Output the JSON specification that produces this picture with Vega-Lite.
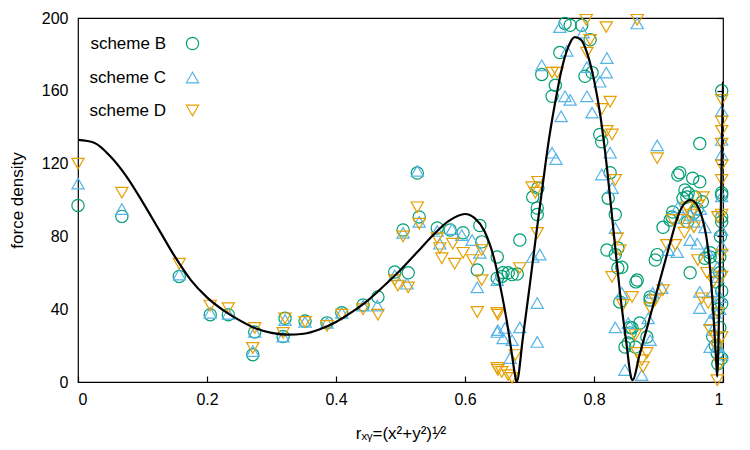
{
  "$schema": "https://vega.github.io/schema/vega-lite/v6.json",
  "width": 645,
  "height": 364,
  "autosize": {"type": "none"},
  "padding": {"left": 78, "top": 18, "right": 27, "bottom": 68},
  "background": "white",
  "config": {
    "view": {"stroke": "#000", "strokeWidth": 1.2},
    "font": "Liberation Sans",
    "axis": {
      "domain": false,
      "ticks": false,
      "grid": true,
      "gridColor": "#000",
      "gridOpacity": 1,
      "gridWidth": 1.2,
      "gridDash": [6, 2000],
      "labelFont": "Liberation Sans",
      "labelFontSize": 16,
      "labelColor": "#000",
      "titleFont": "Liberation Sans",
      "titleFontSize": 17,
      "titleFontWeight": "normal",
      "titleColor": "#000"
    }
  },
  "datasets": {
    "pts": [
      {"s":"scheme B","r":0,"f":97},{"s":"scheme B","r":0.068,"f":91},{"s":"scheme B","r":0.157,"f":58},{"s":"scheme B","r":0.205,"f":37},{"s":"scheme B","r":0.233,"f":37},{"s":"scheme B","r":0.274,"f":27.5},{"s":"scheme B","r":0.271,"f":15},{"s":"scheme B","r":0.321,"f":35},{"s":"scheme B","r":0.318,"f":25},{"s":"scheme B","r":0.352,"f":33.5},{"s":"scheme B","r":0.386,"f":32.5},{"s":"scheme B","r":0.409,"f":38},{"s":"scheme B","r":0.442,"f":42.3},{"s":"scheme B","r":0.465,"f":46.7},{"s":"scheme B","r":0.491,"f":60.4},{"s":"scheme B","r":0.512,"f":60},{"s":"scheme B","r":0.504,"f":83.5},{"s":"scheme B","r":0.529,"f":90.7},{"s":"scheme B","r":0.526,"f":114.8},{"s":"scheme B","r":0.557,"f":84.6},{"s":"scheme B","r":0.577,"f":83.5},{"s":"scheme B","r":0.597,"f":82},{"s":"scheme B","r":0.623,"f":86},{"s":"scheme B","r":0.626,"f":77},{"s":"scheme B","r":0.65,"f":68.7},{"s":"scheme B","r":0.619,"f":61.5},{"s":"scheme B","r":0.65,"f":57},{"s":"scheme B","r":0.705,"f":101.6},{"s":"scheme B","r":0.712,"f":95.6},{"s":"scheme B","r":0.712,"f":92},{"s":"scheme B","r":0.685,"f":78},{"s":"scheme B","r":0.659,"f":60},{"s":"scheme B","r":0.667,"f":60},{"s":"scheme B","r":0.673,"f":59},{"s":"scheme B","r":0.681,"f":59.3},{"s":"scheme B","r":0.657,"f":58},{"s":"scheme B","r":0.822,"f":101},{"s":"scheme B","r":0.82,"f":72.5},{"s":"scheme B","r":0.833,"f":70},{"s":"scheme B","r":0.837,"f":62.6},{"s":"scheme B","r":0.84,"f":44},{"s":"scheme B","r":0.755,"f":197},{"s":"scheme B","r":0.763,"f":196},{"s":"scheme B","r":0.781,"f":196},{"s":"scheme B","r":0.794,"f":188},{"s":"scheme B","r":0.747,"f":181},{"s":"scheme B","r":0.719,"f":169},{"s":"scheme B","r":0.74,"f":163},{"s":"scheme B","r":0.735,"f":157},{"s":"scheme B","r":0.786,"f":168},{"s":"scheme B","r":0.797,"f":170},{"s":"scheme B","r":0.809,"f":136},{"s":"scheme B","r":0.812,"f":132},{"s":"scheme B","r":0.825,"f":115},{"s":"scheme B","r":0.713,"f":106.6},{"s":"scheme B","r":0.833,"f":92},{"s":"scheme B","r":0.933,"f":115},{"s":"scheme B","r":0.964,"f":131},{"s":"scheme B","r":0.998,"f":160},{"s":"scheme B","r":0.998,"f":104},{"s":"scheme B","r":0.843,"f":63},{"s":"scheme B","r":0.867,"f":56},{"s":"scheme B","r":0.887,"f":46.7},{"s":"scheme B","r":0.856,"f":30},{"s":"scheme B","r":0.859,"f":29.7},{"s":"scheme B","r":0.853,"f":21.4},{"s":"scheme B","r":0.864,"f":19.2},{"s":"scheme B","r":0.882,"f":24.7},{"s":"scheme B","r":0.871,"f":32.4},{"s":"scheme B","r":0.887,"f":45},{"s":"scheme B","r":0.898,"f":70},{"s":"scheme B","r":0.895,"f":67},{"s":"scheme B","r":0.907,"f":85},{"s":"scheme B","r":0.921,"f":90.7},{"s":"scheme B","r":0.922,"f":93.4},{"s":"scheme B","r":0.938,"f":101},{"s":"scheme B","r":0.946,"f":103.8},{"s":"scheme B","r":0.957,"f":101.6},{"s":"scheme B","r":0.949,"f":60},{"s":"scheme B","r":0.972,"f":68},{"s":"scheme B","r":0.98,"f":68.7},{"s":"scheme B","r":0.98,"f":71},{"s":"scheme B","r":0.995,"f":68.7},{"s":"scheme B","r":0.998,"f":90.7},{"s":"scheme B","r":0.998,"f":102.7},{"s":"scheme B","r":0.991,"f":16},{"s":"scheme B","r":0.998,"f":43},{"s":"scheme B","r":0.93,"f":113.7},{"s":"scheme B","r":0.953,"f":112},{"s":"scheme B","r":0.941,"f":105.5},{"s":"scheme B","r":0.964,"f":110},{"s":"scheme B","r":0.944,"f":101.6},{"s":"scheme B","r":0.918,"f":89},{"s":"scheme B","r":0.865,"f":55},{"s":"scheme B","r":0.856,"f":27},{"s":"scheme B","r":0.848,"f":19.2},{"s":"scheme B","r":0.837,"f":73.6},{"s":"scheme B","r":0.998,"f":88},{"s":"scheme B","r":0.996,"f":80},{"s":"scheme B","r":0.995,"f":60},{"s":"scheme B","r":0.998,"f":50},{"s":"scheme B","r":0.992,"f":40},{"s":"scheme B","r":0.995,"f":30},{"s":"scheme B","r":0.988,"f":20},{"s":"scheme B","r":0.998,"f":13},{"s":"scheme B","r":0.992,"f":10},{"s":"scheme B","r":0.984,"f":25},{"s":"scheme B","r":0.96,"f":95},{"s":"scheme B","r":0.955,"f":93},{"s":"scheme B","r":0.968,"f":99},{"s":"scheme B","r":0.945,"f":88},{"s":"scheme B","r":0.99,"f":55},
      {"s":"scheme C","r":0,"f":109},{"s":"scheme C","r":0.068,"f":95},{"s":"scheme C","r":0.157,"f":59},{"s":"scheme C","r":0.205,"f":38},{"s":"scheme C","r":0.233,"f":37.5},{"s":"scheme C","r":0.274,"f":27.5},{"s":"scheme C","r":0.271,"f":17},{"s":"scheme C","r":0.321,"f":34},{"s":"scheme C","r":0.318,"f":25},{"s":"scheme C","r":0.352,"f":33},{"s":"scheme C","r":0.386,"f":32.5},{"s":"scheme C","r":0.409,"f":38},{"s":"scheme C","r":0.442,"f":42},{"s":"scheme C","r":0.464,"f":42},{"s":"scheme C","r":0.491,"f":58.6},{"s":"scheme C","r":0.51,"f":54},{"s":"scheme C","r":0.504,"f":82},{"s":"scheme C","r":0.529,"f":88},{"s":"scheme C","r":0.526,"f":116},{"s":"scheme C","r":0.561,"f":76},{"s":"scheme C","r":0.557,"f":83},{"s":"scheme C","r":0.58,"f":84},{"s":"scheme C","r":0.595,"f":80.7},{"s":"scheme C","r":0.611,"f":78},{"s":"scheme C","r":0.623,"f":71},{"s":"scheme C","r":0.619,"f":52},{"s":"scheme C","r":0.65,"f":56},{"s":"scheme C","r":0.651,"f":28.5},{"s":"scheme C","r":0.716,"f":70},{"s":"scheme C","r":0.705,"f":68.7},{"s":"scheme C","r":0.712,"f":43.4},{"s":"scheme C","r":0.685,"f":30},{"s":"scheme C","r":0.662,"f":29.7},{"s":"scheme C","r":0.65,"f":27.5},{"s":"scheme C","r":0.659,"f":24},{"s":"scheme C","r":0.673,"f":23},{"s":"scheme C","r":0.712,"f":22},{"s":"scheme C","r":0.67,"f":13.2},{"s":"scheme C","r":0.833,"f":30},{"s":"scheme C","r":0.833,"f":84.6},{"s":"scheme C","r":0.747,"f":195},{"s":"scheme C","r":0.783,"f":192},{"s":"scheme C","r":0.758,"f":182},{"s":"scheme C","r":0.719,"f":174},{"s":"scheme C","r":0.82,"f":178},{"s":"scheme C","r":0.819,"f":170},{"s":"scheme C","r":0.809,"f":165},{"s":"scheme C","r":0.789,"f":173},{"s":"scheme C","r":0.755,"f":157},{"s":"scheme C","r":0.763,"f":155},{"s":"scheme C","r":0.789,"f":157},{"s":"scheme C","r":0.797,"f":148},{"s":"scheme C","r":0.749,"f":146},{"s":"scheme C","r":0.735,"f":126},{"s":"scheme C","r":0.741,"f":122.5},{"s":"scheme C","r":0.825,"f":126},{"s":"scheme C","r":0.812,"f":114},{"s":"scheme C","r":0.828,"f":106.6},{"s":"scheme C","r":0.867,"f":197},{"s":"scheme C","r":0.898,"f":130},{"s":"scheme C","r":0.998,"f":149},{"s":"scheme C","r":0.998,"f":133},{"s":"scheme C","r":0.998,"f":125},{"s":"scheme C","r":0.998,"f":102},{"s":"scheme C","r":0.843,"f":49},{"s":"scheme C","r":0.853,"f":32.4},{"s":"scheme C","r":0.884,"f":35},{"s":"scheme C","r":0.891,"f":49},{"s":"scheme C","r":0.905,"f":51.6},{"s":"scheme C","r":0.887,"f":23},{"s":"scheme C","r":0.848,"f":6.6},{"s":"scheme C","r":0.874,"f":3.8},{"s":"scheme C","r":0.929,"f":71.4},{"s":"scheme C","r":0.915,"f":72.5},{"s":"scheme C","r":0.949,"f":78},{"s":"scheme C","r":0.96,"f":76},{"s":"scheme C","r":0.972,"f":85},{"s":"scheme C","r":0.961,"f":91.8},{"s":"scheme C","r":0.949,"f":91.8},{"s":"scheme C","r":0.975,"f":72.5},{"s":"scheme C","r":0.964,"f":49.5},{"s":"scheme C","r":0.964,"f":40.6},{"s":"scheme C","r":0.98,"f":34},{"s":"scheme C","r":0.984,"f":28.6},{"s":"scheme C","r":0.98,"f":19.2},{"s":"scheme C","r":0.995,"f":46.7},{"s":"scheme C","r":0.992,"f":57.7},{"s":"scheme C","r":0.991,"f":63},{"s":"scheme C","r":0.998,"f":83.5},{"s":"scheme C","r":0.998,"f":75},{"s":"scheme C","r":0.995,"f":40},{"s":"scheme C","r":0.998,"f":15},{"s":"scheme C","r":0.992,"f":20},{"s":"scheme C","r":0.94,"f":90},{"s":"scheme C","r":0.955,"f":88},{"s":"scheme C","r":0.965,"f":95},{"s":"scheme C","r":0.93,"f":96},{"s":"scheme C","r":0.985,"f":50},{"s":"scheme C","r":0.988,"f":38},
      {"s":"scheme D","r":0,"f":120},{"s":"scheme D","r":0.068,"f":104},{"s":"scheme D","r":0.157,"f":65},{"s":"scheme D","r":0.205,"f":42},{"s":"scheme D","r":0.233,"f":40.6},{"s":"scheme D","r":0.274,"f":29.7},{"s":"scheme D","r":0.271,"f":18.7},{"s":"scheme D","r":0.321,"f":35},{"s":"scheme D","r":0.318,"f":27},{"s":"scheme D","r":0.352,"f":33},{"s":"scheme D","r":0.386,"f":30.8},{"s":"scheme D","r":0.409,"f":37},{"s":"scheme D","r":0.442,"f":40},{"s":"scheme D","r":0.465,"f":37},{"s":"scheme D","r":0.491,"f":56},{"s":"scheme D","r":0.512,"f":52},{"s":"scheme D","r":0.504,"f":80},{"s":"scheme D","r":0.526,"f":96},{"s":"scheme D","r":0.529,"f":87},{"s":"scheme D","r":0.496,"f":53},{"s":"scheme D","r":0.557,"f":79},{"s":"scheme D","r":0.561,"f":73.6},{"s":"scheme D","r":0.564,"f":68},{"s":"scheme D","r":0.581,"f":76},{"s":"scheme D","r":0.584,"f":65},{"s":"scheme D","r":0.597,"f":71},{"s":"scheme D","r":0.612,"f":67},{"s":"scheme D","r":0.626,"f":72.5},{"s":"scheme D","r":0.626,"f":56},{"s":"scheme D","r":0.619,"f":38.5},{"s":"scheme D","r":0.651,"f":37},{"s":"scheme D","r":0.651,"f":6.6},{"s":"scheme D","r":0.712,"f":81.9},{"s":"scheme D","r":0.685,"f":62.6},{"s":"scheme D","r":0.65,"f":38},{"s":"scheme D","r":0.678,"f":14.8},{"s":"scheme D","r":0.65,"f":7.7},{"s":"scheme D","r":0.657,"f":5.5},{"s":"scheme D","r":0.667,"f":3.8},{"s":"scheme D","r":0.673,"f":2.2},{"s":"scheme D","r":0.828,"f":57.7},{"s":"scheme D","r":0.836,"f":79},{"s":"scheme D","r":0.788,"f":199},{"s":"scheme D","r":0.819,"f":195},{"s":"scheme D","r":0.867,"f":199},{"s":"scheme D","r":0.735,"f":170},{"s":"scheme D","r":0.743,"f":170},{"s":"scheme D","r":0.794,"f":188},{"s":"scheme D","r":0.789,"f":181},{"s":"scheme D","r":0.825,"f":154},{"s":"scheme D","r":0.812,"f":150},{"s":"scheme D","r":0.82,"f":138},{"s":"scheme D","r":0.828,"f":136},{"s":"scheme D","r":0.833,"f":111},{"s":"scheme D","r":0.898,"f":123},{"s":"scheme D","r":0.704,"f":107},{"s":"scheme D","r":0.713,"f":110},{"s":"scheme D","r":0.709,"f":104},{"s":"scheme D","r":0.998,"f":155},{"s":"scheme D","r":0.998,"f":143},{"s":"scheme D","r":0.998,"f":138},{"s":"scheme D","r":0.998,"f":131},{"s":"scheme D","r":0.998,"f":119},{"s":"scheme D","r":0.998,"f":111},{"s":"scheme D","r":0.998,"f":92},{"s":"scheme D","r":0.84,"f":72.5},{"s":"scheme D","r":0.845,"f":42.3},{"s":"scheme D","r":0.859,"f":46.7},{"s":"scheme D","r":0.864,"f":25.8},{"s":"scheme D","r":0.867,"f":16},{"s":"scheme D","r":0.874,"f":12},{"s":"scheme D","r":0.876,"f":8.2},{"s":"scheme D","r":0.882,"f":16},{"s":"scheme D","r":0.887,"f":40.6},{"s":"scheme D","r":0.895,"f":45},{"s":"scheme D","r":0.907,"f":50.5},{"s":"scheme D","r":0.913,"f":75.3},{"s":"scheme D","r":0.926,"f":75.3},{"s":"scheme D","r":0.922,"f":89},{"s":"scheme D","r":0.936,"f":89},{"s":"scheme D","r":0.944,"f":96},{"s":"scheme D","r":0.961,"f":97},{"s":"scheme D","r":0.969,"f":101.6},{"s":"scheme D","r":0.961,"f":67},{"s":"scheme D","r":0.967,"f":46},{"s":"scheme D","r":0.977,"f":43.4},{"s":"scheme D","r":0.98,"f":28.6},{"s":"scheme D","r":0.988,"f":24.7},{"s":"scheme D","r":0.991,"f":19.2},{"s":"scheme D","r":0.992,"f":38},{"s":"scheme D","r":0.991,"f":1},{"s":"scheme D","r":0.998,"f":24.7},{"s":"scheme D","r":0.992,"f":90.7},{"s":"scheme D","r":0.95,"f":92},{"s":"scheme D","r":0.955,"f":85},{"s":"scheme D","r":0.94,"f":82},{"s":"scheme D","r":0.975,"f":60},{"s":"scheme D","r":0.985,"f":55},{"s":"scheme D","r":0.998,"f":70},{"s":"scheme D","r":0.998,"f":58},{"s":"scheme D","r":0.995,"f":10}
    ],
    "curve": [
      {"r":0,"f":133},{"r":0.025,"f":131.5},{"r":0.05,"f":124},{"r":0.075,"f":113},{"r":0.1,"f":99},{"r":0.125,"f":84},{"r":0.15,"f":69},{"r":0.175,"f":56},{"r":0.2,"f":46.5},{"r":0.225,"f":39.5},{"r":0.25,"f":34},{"r":0.275,"f":29.5},{"r":0.3,"f":27},{"r":0.325,"f":26},{"r":0.35,"f":26.5},{"r":0.375,"f":29},{"r":0.4,"f":33},{"r":0.425,"f":38.5},{"r":0.45,"f":45},{"r":0.475,"f":53},{"r":0.5,"f":61.5},{"r":0.525,"f":71},{"r":0.55,"f":80.5},{"r":0.575,"f":88.5},{"r":0.6,"f":92.3},{"r":0.615,"f":90},{"r":0.63,"f":83},{"r":0.645,"f":68},{"r":0.655,"f":52},{"r":0.665,"f":33},{"r":0.672,"f":17},{"r":0.678,"f":3},{"r":0.68,"f":0},{"r":0.69,"f":25},{"r":0.7,"f":52},{"r":0.71,"f":80},{"r":0.72,"f":107},{"r":0.73,"f":133},{"r":0.74,"f":154},{"r":0.75,"f":172},{"r":0.76,"f":184},{"r":0.77,"f":189.5},{"r":0.78,"f":188},{"r":0.79,"f":180},{"r":0.8,"f":166},{"r":0.81,"f":146},{"r":0.82,"f":118},{"r":0.83,"f":84},{"r":0.84,"f":50},{"r":0.85,"f":22},{"r":0.858,"f":2},{"r":0.86,"f":1},{"r":0.87,"f":14},{"r":0.88,"f":27},{"r":0.89,"f":40},{"r":0.9,"f":53},{"r":0.91,"f":66},{"r":0.92,"f":79},{"r":0.93,"f":91},{"r":0.94,"f":98},{"r":0.95,"f":100},{"r":0.96,"f":97},{"r":0.97,"f":87},{"r":0.975,"f":78},{"r":0.98,"f":62},{"r":0.985,"f":38},{"r":0.99,"f":8},{"r":0.991,"f":3},{"r":0.995,"f":60},{"r":1,"f":165}
    ]
  },
  "layer": [
    {
      "data": {"name": "pts"},
      "mark": {"type": "point", "filled": false, "strokeWidth": 1.2, "size": 150, "opacity": 1, "clip": false},
      "encoding": {
        "x": {
          "field": "r", "type": "quantitative",
          "scale": {"domain": [0, 1], "nice": false, "zero": false},
          "axis": {"orient": "top", "values": [0, 0.2, 0.4, 0.6, 0.8, 1], "labels": false, "title": null}
        },
        "y": {
          "field": "f", "type": "quantitative",
          "scale": {"domain": [0, 200], "nice": false},
          "axis": {"orient": "right", "values": [0, 40, 80, 120, 160, 200], "labels": false, "title": null}
        },
        "color": {
          "field": "s", "type": "nominal",
          "scale": {"domain": ["scheme B", "scheme C", "scheme D"], "range": ["#009e73", "#56b4e9", "#e69f00"]},
          "legend": {"title": null, "orient": "none", "legendX": 106, "legendY": 17, "labelAlign": "right", "labelOffset": -35, "labelFontSize": 17, "labelFont": "Liberation Sans", "labelColor": "#000", "rowPadding": 15, "symbolSize": 150, "symbolStrokeWidth": 1.2}
        },
        "shape": {
          "field": "s", "type": "nominal",
          "scale": {"domain": ["scheme B", "scheme C", "scheme D"], "range": ["circle", "triangle-up", "triangle-down"]},
          "legend": {"title": null, "orient": "none", "legendX": 106, "legendY": 17, "labelAlign": "right", "labelOffset": -35, "labelFontSize": 17, "labelFont": "Liberation Sans", "labelColor": "#000", "rowPadding": 15, "symbolSize": 150, "symbolStrokeWidth": 1.2}
        }
      }
    },
    {
      "data": {"name": "curve"},
      "mark": {"type": "line", "color": "#000", "strokeWidth": 2.2, "clip": true, "interpolate": "monotone"},
      "encoding": {
        "x": {
          "field": "r", "type": "quantitative",
          "scale": {"domain": [0, 1], "nice": false, "zero": false},
          "axis": {"orient": "bottom", "values": [0, 0.2, 0.4, 0.6, 0.8, 1], "format": "~g", "labelPadding": 9, "title": "rₓᵧ=(x²+y²)¹⁄²", "titlePadding": 18}
        },
        "y": {
          "field": "f", "type": "quantitative",
          "scale": {"domain": [0, 200], "nice": false},
          "axis": {"orient": "left", "values": [0, 40, 80, 120, 160, 200], "labelPadding": 10, "title": "force density", "titlePadding": 15}
        }
      }
    }
  ],
  "resolve": {"axis": {"x": "independent", "y": "independent"}}
}
